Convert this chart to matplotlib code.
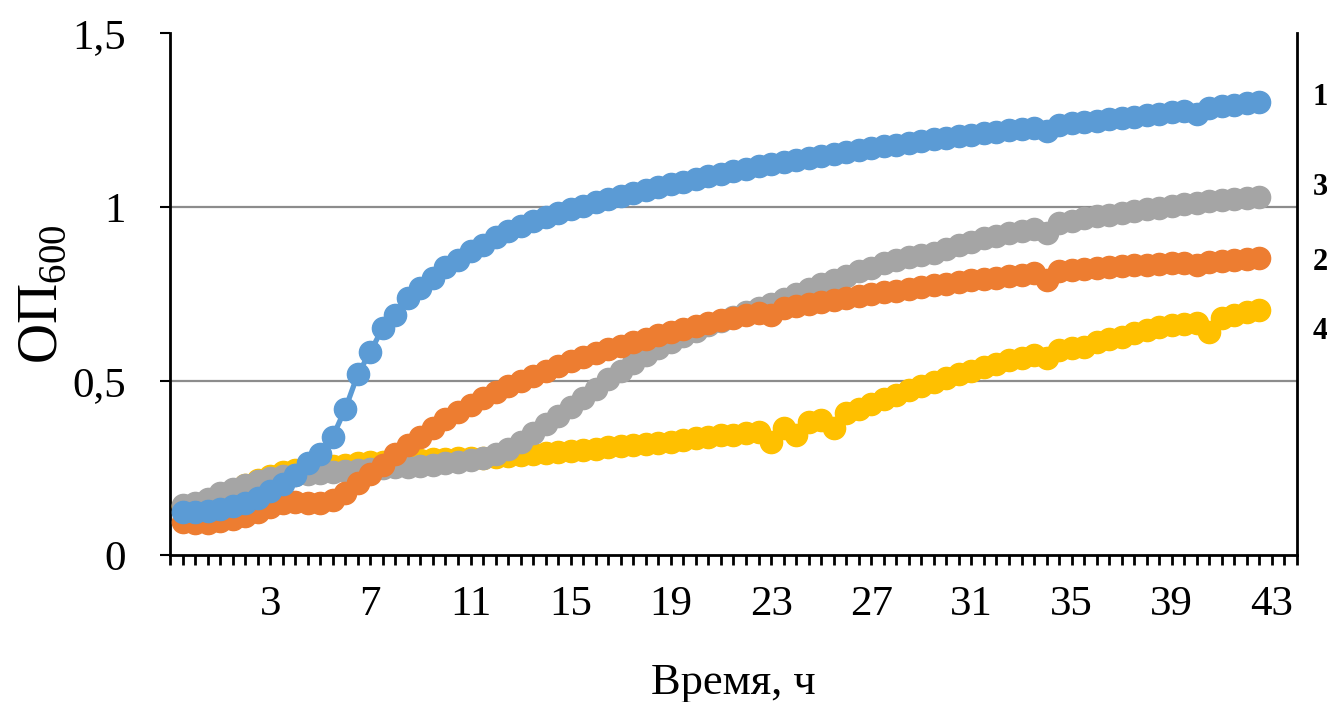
"""Growth curves OD600 vs time (Excel-style line chart, headless / Agg)."""

import matplotlib

matplotlib.use("Agg")
import matplotlib.pyplot as plt  # noqa: E402
import numpy as np  # noqa: E402

plt.rcParams.update({
    "font.family": ["Liberation Serif", "DejaVu Serif"],
    "mathtext.fontset": "custom",
    "mathtext.rm": "Liberation Serif",
})

# --- data: OD600 every half hour (one value per category) -------------------
od_1 = [0.125, 0.124, 0.126, 0.131, 0.140, 0.150, 0.165, 0.185, 0.205, 0.230,
        0.263, 0.290, 0.340, 0.420, 0.519, 0.584, 0.653, 0.690, 0.738, 0.766,
        0.795, 0.827, 0.848, 0.874, 0.891, 0.915, 0.932, 0.946, 0.959, 0.971,
        0.983, 0.994, 1.004, 1.013, 1.022, 1.031, 1.040, 1.049, 1.057, 1.065,
        1.073, 1.081, 1.089, 1.096, 1.103, 1.110, 1.117, 1.123, 1.129, 1.135,
        1.141, 1.147, 1.153, 1.159, 1.164, 1.169, 1.174, 1.179, 1.184, 1.189,
        1.194, 1.199, 1.204, 1.208, 1.212, 1.216, 1.220, 1.224, 1.228, 1.218,
        1.236, 1.240, 1.244, 1.248, 1.252, 1.256, 1.260, 1.264, 1.268, 1.272,
        1.276, 1.266, 1.284, 1.289, 1.294, 1.299, 1.303]
od_2 = [0.096, 0.091, 0.092, 0.097, 0.104, 0.112, 0.124, 0.139, 0.150, 0.153,
        0.149, 0.150, 0.158, 0.177, 0.206, 0.232, 0.259, 0.290, 0.315, 0.340,
        0.365, 0.390, 0.410, 0.430, 0.450, 0.468, 0.485, 0.500, 0.515, 0.530,
        0.544, 0.557, 0.569, 0.581, 0.592, 0.602, 0.612, 0.622, 0.631, 0.640,
        0.649, 0.658, 0.666, 0.674, 0.682, 0.689, 0.696, 0.690, 0.709, 0.715,
        0.721, 0.727, 0.733, 0.739, 0.745, 0.750, 0.755, 0.760, 0.765, 0.770,
        0.775, 0.780, 0.785, 0.789, 0.793, 0.797, 0.801, 0.805, 0.809, 0.790,
        0.815, 0.818, 0.821, 0.824, 0.827, 0.830, 0.832, 0.834, 0.836, 0.838,
        0.839, 0.833, 0.841, 0.844, 0.847, 0.850, 0.853]
od_3 = [0.144, 0.149, 0.160, 0.177, 0.189, 0.201, 0.213, 0.222, 0.228, 0.230,
        0.232, 0.235, 0.238, 0.241, 0.244, 0.247, 0.250, 0.252, 0.254, 0.257,
        0.260, 0.264, 0.268, 0.273, 0.280, 0.290, 0.305, 0.325, 0.350, 0.375,
        0.400, 0.425, 0.450, 0.478, 0.505, 0.530, 0.553, 0.575, 0.595, 0.613,
        0.630, 0.645, 0.660, 0.672, 0.684, 0.697, 0.710, 0.722, 0.735, 0.750,
        0.765, 0.778, 0.790, 0.802, 0.815, 0.826, 0.838, 0.847, 0.855, 0.862,
        0.868, 0.880, 0.890, 0.900, 0.910, 0.918, 0.925, 0.932, 0.938, 0.925,
        0.953, 0.960, 0.967, 0.973, 0.978, 0.983, 0.988, 0.993, 0.998, 1.003,
        1.008, 1.012, 1.016, 1.020, 1.023, 1.027, 1.030]
od_4 = [0.140, 0.145, 0.155, 0.170, 0.185, 0.200, 0.215, 0.228, 0.238, 0.245,
        0.250, 0.254, 0.257, 0.260, 0.263, 0.266, 0.268, 0.270, 0.272, 0.274,
        0.276, 0.277, 0.278, 0.279, 0.280, 0.282, 0.285, 0.288, 0.291, 0.294,
        0.297, 0.300, 0.303, 0.306, 0.309, 0.312, 0.315, 0.318, 0.321, 0.325,
        0.330, 0.335, 0.340, 0.345, 0.345, 0.350, 0.354, 0.326, 0.364, 0.345,
        0.383, 0.388, 0.364, 0.407, 0.420, 0.435, 0.448, 0.460, 0.473, 0.486,
        0.498, 0.510, 0.520, 0.530, 0.540, 0.550, 0.560, 0.567, 0.575, 0.565,
        0.589, 0.594, 0.599, 0.613, 0.620, 0.627, 0.637, 0.647, 0.654, 0.661,
        0.665, 0.668, 0.642, 0.680, 0.690, 0.697, 0.704]

tick_hours = ["3", "7", "11", "15", "19", "23", "27", "31", "35", "39", "43"]
y_ticks = [0, 0.5, 1, 1.5]
y_tick_labels = ["0", "0,5", "1", "1,5"]
series_tags = ["1", "2", "3", "4"]
colors = ["#5B9BD5", "#ED7D31", "#A5A5A5", "#FFC000"]

# --- figure ------------------------------------------------------------------
fig = plt.figure(figsize=(13.27, 7.02), dpi=100)
ax = fig.add_axes([0.1281, 0.2094, 0.8493, 0.7436])

series = [od_1, od_2, od_3, od_4]
x = np.arange(len(od_1))
# drawing order as in the workbook: 4 at the bottom, 1 on top
for z, (vals, col) in enumerate(zip(series[::-1], colors[::-1])):
    ax.plot(x, vals, color=col, lw=3.8, marker="o", ms=16, mec=col,
            mfc=col, zorder=3 + z, solid_capstyle="round")

# category axis: one tick per half hour, label every 8th tick
ax.set_xlim(-1, len(od_1) + 2)
ax.set_xticks(np.arange(7, 7 + 8 * len(tick_hours), 8))
ax.set_xticklabels(tick_hours)
ax.set_xticks(np.arange(-1, len(od_1) + 3), minor=True)
ax.tick_params(axis="x", which="both", direction="out", length=7, width=2,
               pad=15, labelsize=31)

ax.set_ylim(0, 1.5)
ax.set_yticks(y_ticks)
ax.set_yticklabels(y_tick_labels)
ax.tick_params(axis="y", direction="out", length=7, width=1.5, pad=25,
               labelsize=31)
for v in (0.5, 1.0):
    ax.axhline(v, color="#8c8c8c", lw=1.6, zorder=1)

ax.spines["top"].set_visible(False)
for side in ("left", "right", "bottom"):
    ax.spines[side].set_linewidth(2)
    ax.spines[side].set_color("black")

ax.set_xlabel("Время, ч", fontsize=32)
ax.xaxis.set_label_coords(0.5, -0.206)
ax.set_ylabel("ОП$_{600}$", fontsize=40)
ax.yaxis.set_label_coords(-0.090, 0.5)

# series tags at the right edge, at the level of the curve ends
tag_levels = [1.316, 0.841, 1.057, 0.643]
for tag, lev in zip(series_tags, tag_levels):
    ax.text(1.014, lev, tag, transform=ax.get_yaxis_transform(), ha="left",
            va="center", fontsize=22, fontweight="bold")

fig.savefig("out.png", dpi=100)
